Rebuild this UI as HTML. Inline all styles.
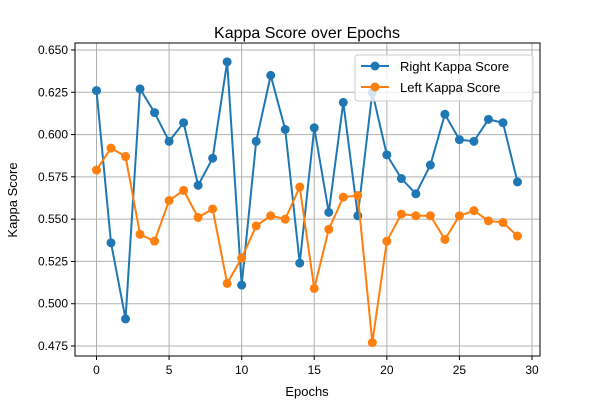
<!DOCTYPE html>
<html><head><meta charset="utf-8"><style>
html,body{margin:0;padding:0;background:#fff;}
svg{display:block;font-family:"Liberation Sans","DejaVu Sans",sans-serif;}
</style></head><body>
<svg id="chart" width="600" height="400" xmlns="http://www.w3.org/2000/svg">
<rect x="0" y="0" width="600" height="400" fill="#fff"/>
<text x="307" y="38" text-anchor="middle" font-size="16" fill="#000">Kappa Score over Epochs</text>
<text x="307" y="396" text-anchor="middle" font-size="13" fill="#000">Epochs</text>
<text x="0" y="0" transform="translate(17,200) rotate(-90)" text-anchor="middle" font-size="13" fill="#000">Kappa Score</text>
<g id="grid"></g><g id="series"></g><g id="axes"></g>
<g>
<rect x="355" y="55" width="178" height="46" rx="3" fill="#fff" fill-opacity="0.8" stroke="#ccc"/>
<g>
<line x1="361" y1="66" x2="389" y2="66" stroke="#1f77b4" stroke-width="2"/><circle cx="375" cy="66" r="4.5" fill="#1f77b4"/>
<text x="400" y="71" font-size="13" fill="#000">Right Kappa Score</text></g>
<g>
<line x1="361" y1="87" x2="389" y2="87" stroke="#ff7f0e" stroke-width="2"/><circle cx="375" cy="87" r="4.5" fill="#ff7f0e"/>
<text x="400" y="92" font-size="13" fill="#000">Left Kappa Score</text></g>
</g>
</svg>
<script>
const epochs=[0,1,2,3,4,5,6,7,8,9,10,11,12,13,14,15,16,17,18,19,20,21,22,23,24,25,26,27,28,29];
const rightKappa=[0.626,0.536,0.491,0.627,0.613,0.596,0.607,0.570,0.586,0.643,0.511,0.596,0.635,0.603,0.524,0.604,0.554,0.619,0.552,0.625,0.588,0.574,0.565,0.582,0.612,0.597,0.596,0.609,0.607,0.572];
const leftKappa=[0.579,0.592,0.587,0.541,0.537,0.561,0.567,0.551,0.556,0.512,0.527,0.546,0.552,0.550,0.569,0.509,0.544,0.563,0.564,0.477,0.537,0.553,0.552,0.552,0.538,0.552,0.555,0.549,0.548,0.540];
const xTicks=[0,5,10,15,20,25,30];
const yTicks=[0.475,0.500,0.525,0.550,0.575,0.600,0.625,0.650];
const L=75,R=540,T=43,B=356;
const xs=v=>96.5+(v-0)*(532-96.5)/30;
const ys=v=>50+(0.650-v)*(346-50)/0.175;
const NS="http://www.w3.org/2000/svg";
function mk(t,a,p){const e=document.createElementNS(NS,t);for(const k in a)e.setAttribute(k,a[k]);p.appendChild(e);return e;}
const grid=document.getElementById('grid'),axes=document.getElementById('axes'),ser=document.getElementById('series');
xTicks.forEach(t=>{const x=xs(t);
 const g=mk('line',{x1:x,x2:x,y1:T,y2:B,stroke:'#b0b0b0','stroke-width':1},grid);
 
 
 mk('line',{x1:x,x2:x,y1:B,y2:B+4,stroke:'#000'},axes);
 const tx=mk('text',{x:x,y:B+18,'text-anchor':'middle','font-size':12,fill:'#000'},axes);tx.textContent=t;
 
 });
yTicks.forEach(t=>{const y=ys(t);
 const g=mk('line',{x1:L,x2:R,y1:y,y2:y,stroke:'#b0b0b0','stroke-width':1},grid);
 
 
 mk('line',{x1:L-4,x2:L,y1:y,y2:y,stroke:'#000'},axes);
 const tx=mk('text',{x:L-7,y:y+4,'text-anchor':'end','font-size':12,fill:'#000'},axes);tx.textContent=t.toFixed(3);
 
 });
const frame=mk('rect',{x:L,y:T,width:R-L,height:B-T,fill:'none',stroke:'#000','stroke-width':1},axes);


function draw(vals,color,name){
 const g=mk('g',{},ser);
 
 
 const pl=mk('polyline',{points:vals.map((v,i)=>xs(epochs[i])+','+ys(v)).join(' '),fill:'none',stroke:color,'stroke-width':2},g);
 
 
 vals.forEach((v,i)=>{const c=mk('circle',{cx:xs(epochs[i]),cy:ys(v),r:4.5,fill:color},g);
  
  });
}
draw(rightKappa,'#1f77b4','right-kappa-series');
draw(leftKappa,'#ff7f0e','left-kappa-series');
</script>
</body></html>
